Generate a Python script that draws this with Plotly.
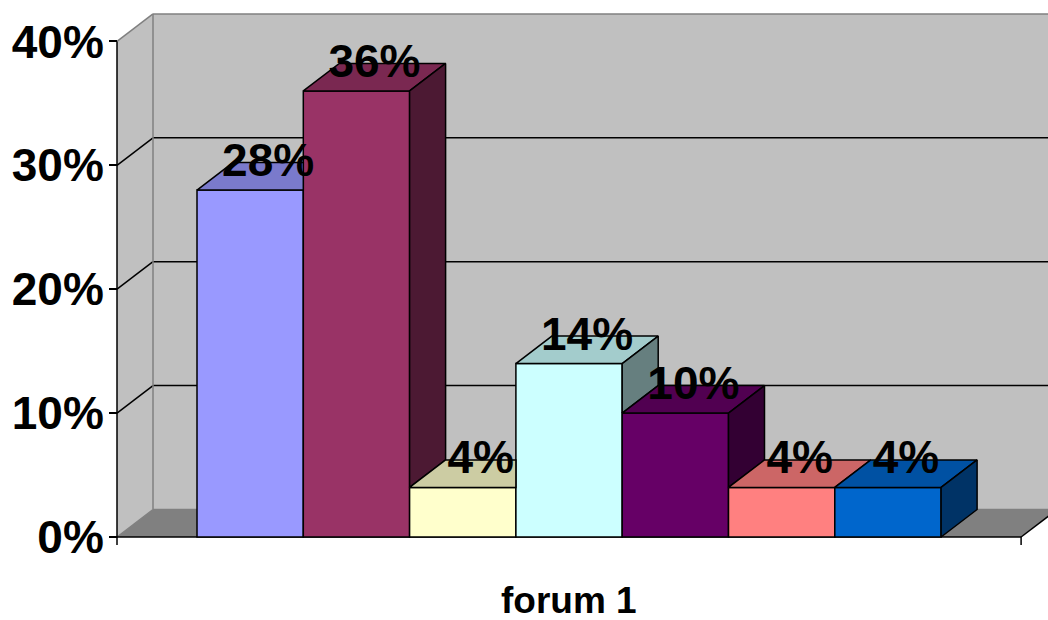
import plotly.graph_objects as go

# ---------------- data ----------------
category = "forum 1"
series_names = ["Série 1", "Série 2", "Série 3", "Série 4", "Série 5", "Série 6", "Série 7"]
values = [0.28, 0.36, 0.04, 0.14, 0.10, 0.04, 0.04]
tick_vals = [0.0, 0.1, 0.2, 0.3, 0.4]
tick_text = ["0%", "10%", "20%", "30%", "40%"]
front_colors = ["#9999FF", "#993366", "#FFFFCC", "#CCFFFF", "#660066", "#FF8080", "#0066CC"]

# ---------------- geometry / style ----------------
W, H = 1048, 620
ML, MR, MT, MB = 110, 0, 8, 70
AXIS_X_PX = 117          # pixel x of front y-axis
BASE_Y_PX = 537          # pixel y of 0% on front plane
PX_PER_UNIT = 106.3      # one bar width in pixels
PX_PER_ONE = 1239.0      # pixels for 100%
GAP = 0.7526             # gap before first / after last bar (in bar widths)
DX = 36 / PX_PER_UNIT    # depth offset x
DY = 27.5 / PX_PER_ONE   # depth offset y
LABEL_NUDGE = -2 / PX_PER_ONE
n = len(values)
AX_END = 2 * GAP + n

x_range = [-(AXIS_X_PX - ML) / PX_PER_UNIT, (W - MR - AXIS_X_PX) / PX_PER_UNIT]
y_range = [-(H - MB - BASE_Y_PX) / PX_PER_ONE, (BASE_Y_PX - MT) / PX_PER_ONE]
YMAX = tick_vals[-1]

FONT = "Liberation Sans, Arial, sans-serif"
WALL = "#C0C0C0"
FLOOR = "#808080"
EDGE = "#808080"


def shade(hex_color, f):
    h = hex_color.lstrip("#")
    r, g, b = (int(h[i:i + 2], 16) for i in (0, 2, 4))
    return "#{:02X}{:02X}{:02X}".format(int(r * f), int(g * f), int(b * f))


fig = go.Figure()

# front faces (bars)
centers = [GAP + 0.5 + i for i in range(n)]
for i in range(n):
    fig.add_trace(go.Bar(
        x=[centers[i]], y=[values[i]], width=1, name=series_names[i],
        marker=dict(color=front_colors[i], line=dict(color="black", width=1.5)),
        showlegend=False, hoverinfo="skip",
    ))

# top and side faces
for i in range(n):
    v = values[i]
    vn = values[i + 1] if i + 1 < n else 0.0
    l = centers[i] - 0.5
    r = centers[i] + 0.5
    if vn > v:
        tx = [l, r, r, l + DX, l]
        ty = [v, v, v + DY, v + DY, v]
    else:
        tx = [l, r, r + DX, l + DX, l]
        ty = [v, v, v + DY, v + DY, v]
    fig.add_trace(go.Scatter(
        x=tx, y=ty, mode="lines", fill="toself", fillcolor=shade(front_colors[i], 0.8),
        line=dict(color="black", width=1.5), showlegend=False, hoverinfo="skip",
    ))
    if v > vn:
        sx = [r, r, r + DX, r + DX, r]
        sy = [vn, v, v + DY, vn + DY, vn]
        fig.add_trace(go.Scatter(
            x=sx, y=sy, mode="lines", fill="toself", fillcolor=shade(front_colors[i], 0.5),
            line=dict(color="black", width=1.5), showlegend=False, hoverinfo="skip",
        ))

# data labels
fig.add_trace(go.Scatter(
    x=[c + DX / 2 for c in centers], y=[v + DY + LABEL_NUDGE for v in values],
    mode="text", text=["{:.0%}".format(v) for v in values],
    textposition="middle center",
    textfont=dict(family=FONT, size=46, color="black", weight="bold"),
    showlegend=False, hoverinfo="skip", cliponaxis=False,
))

# ---------------- walls, floor, grid (shapes below traces) ----------------
shapes = []
XR = AX_END + DX + 1
# back wall
shapes.append(dict(type="rect", x0=DX, x1=XR, y0=DY, y1=YMAX + DY,
                   fillcolor=WALL, line=dict(width=0), layer="below"))
# side wall
shapes.append(dict(type="path",
                   path=f"M0,0 L0,{YMAX} L{DX},{YMAX + DY} L{DX},{DY} Z",
                   fillcolor=WALL, line=dict(width=0), layer="below"))
# floor
shapes.append(dict(type="path",
                   path=f"M0,0 L{AX_END},0 L{AX_END + DX},{DY} L{DX},{DY} Z",
                   fillcolor=FLOOR, line=dict(width=0), layer="below"))
# grid lines
for t in tick_vals:
    col = "black" if 0 < t < YMAX else EDGE
    shapes.append(dict(type="line", x0=0, y0=t, x1=DX, y1=t + DY,
                       line=dict(color=col, width=1.5), layer="below"))
    shapes.append(dict(type="line", x0=DX, y0=t + DY, x1=XR, y1=t + DY,
                       line=dict(color=col, width=1.5), layer="below"))
# back wall left edge
shapes.append(dict(type="line", x0=DX, y0=DY, x1=DX, y1=YMAX + DY,
                   line=dict(color=EDGE, width=1.5), layer="below"))
# front axes
shapes.append(dict(type="line", x0=0, y0=0, x1=0, y1=YMAX,
                   line=dict(color="black", width=1.5), layer="below"))
shapes.append(dict(type="line", x0=0, y0=0, x1=AX_END, y1=0,
                   line=dict(color="black", width=1.5), layer="below"))
shapes.append(dict(type="line", x0=AX_END, y0=0, x1=AX_END + DX, y1=DY,
                   line=dict(color="black", width=1.5), layer="below"))
# x tick marks
for xt in [0, AX_END]:
    shapes.append(dict(type="line", x0=xt, y0=0, x1=xt, y1=-8 / PX_PER_ONE,
                       line=dict(color="black", width=1.5), layer="below"))

fig.update_layout(
    width=W, height=H,
    margin=dict(l=ML, r=MR, t=MT, b=MB, pad=0),
    paper_bgcolor="white", plot_bgcolor="white",
    barmode="overlay",
    shapes=shapes,
    xaxis=dict(range=x_range, showgrid=False, zeroline=False, showticklabels=False,
               ticks="", showline=False, fixedrange=True),
    yaxis=dict(range=y_range, showgrid=False, zeroline=False, showline=False,
               anchor="free", position=(AXIS_X_PX - ML) / (W - ML - MR),
               tickvals=tick_vals, ticktext=tick_text, ticks="outside", ticklen=8,
               tickwidth=1.5, tickcolor="black", ticklabelstandoff=-4,
               tickfont=dict(family=FONT, size=46, color="black", weight="bold"),
               fixedrange=True),
    annotations=[dict(x=AX_END / 2, y=0, xref="x", yref="y", text=category,
                      showarrow=False, yanchor="middle", yshift=-63,
                      font=dict(family=FONT, size=37, color="black", weight="bold"))],
)

fig.write_html("out.html")
